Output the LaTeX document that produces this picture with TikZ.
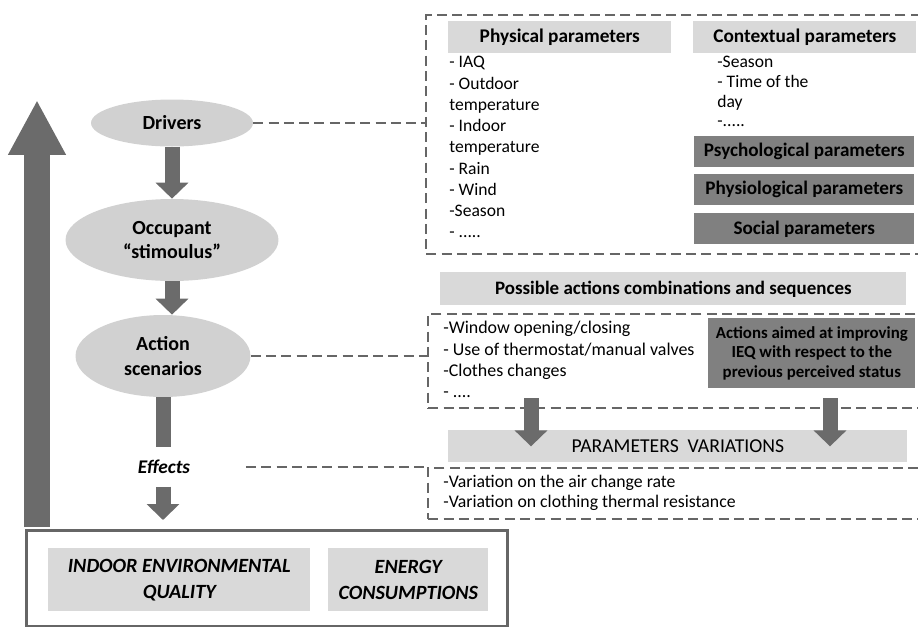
\documentclass[tikz,border=0pt]{standalone}
\usepackage{fontspec}
\setmainfont{Carlito}
\usetikzlibrary{arrows.meta,shapes.geometric}

\begin{document}
\begin{tikzpicture}[x=0.02cm, y=-0.02cm, %%% one unit = one pixel of the 918x626 frame, y downwards
    stage/.style={ellipse, fill=black!18, inner sep=0pt, align=center, font=\fontsize{11.4}{14}\selectfont\bfseries},
    lightbox/.style={rectangle, fill=black!15, inner sep=0pt, anchor=north west, align=center},
    darkbox/.style={rectangle, fill=black!50, inner sep=0pt, anchor=north west, align=center, font=\fontsize{10.9}{12}\selectfont\bfseries},
    dbox/.style={draw=black!60, line width=1.4pt, dash pattern=on 5.7pt off 3pt, inner sep=0pt, anchor=north west},
    dline/.style={draw=black!60, line width=1.4pt, dash pattern=on 5.7pt off 3pt},
    list/.style={anchor=north west, align=left, inner sep=0pt},
    barrow/.style={draw=black!58, line width=0.3cm, -{Triangle[width=0.64cm,length=0.32cm]}},
    ]
      \useasboundingbox (0,0) rectangle (918,626);

      %%% left column
      \node[stage, minimum width=3.24cm, minimum height=0.94cm] (drv) at (172,123) {Drivers};
      \node[stage, minimum width=4.26cm, minimum height=1.64cm] (occ) at (172,240) {Occupant\\“stimoulus”};
      \node[stage, minimum width=3.5cm, minimum height=1.64cm]  (act) at (163,356) {Action\\scenarios};
      \node[font=\fontsize{11}{13}\selectfont\bfseries\itshape, inner sep=2pt] (eff) at (164,467) {Effects};

      \draw[barrow] (drv) -- (occ);
      \draw[barrow] (occ.south) -- (occ.south |- act.north);
      \draw[draw=black!58, line width=0.3cm, shorten >=0.18cm] (act) -- (act |- eff.north);

      %%% bottom results
      \node[draw=black!60, line width=1.5pt, minimum width=9.62cm, minimum height=1.92cm, inner sep=0pt, anchor=north west] (outbox) at (25,529) {};
      \node[lightbox, minimum width=5.24cm, minimum height=1.26cm, font=\fontsize{11.5}{15}\selectfont\bfseries\itshape] (ieq) at (48,548) {INDOOR ENVIRONMENTAL\\QUALITY};
      \node[lightbox, minimum width=3.2cm, minimum height=1.26cm, font=\fontsize{11.5}{15}\selectfont\bfseries\itshape] (ene) at (328,548) {ENERGY\\CONSUMPTIONS};
      \draw[barrow, shorten <=0.18cm, shorten >=0.18cm] (act |- eff.south) -- (act |- outbox.north);

      %%% big feedback arrow
      \coordinate (bigbot) at (37,527);
      \coordinate (bigtop) at (37,100);
      \draw[draw=black!58, line width=0.52cm, -{Triangle[width=1.08cm,length=1.1cm]}] (bigbot) -- (bigtop);

      %%% drivers panel
      \node[dbox, minimum width=10.2cm, minimum height=4.78cm] (drvbox) at (425,14) {};
      \node[lightbox, minimum width=4.46cm, minimum height=0.64cm, font=\fontsize{11}{12}\selectfont\bfseries] (phys) at (448,21) {Physical parameters};
      \node[lightbox, minimum width=4.46cm, minimum height=0.64cm, font=\fontsize{11}{12}\selectfont\bfseries] (ctx) at (693,21) {Contextual parameters};
      \node[list, font=\fontsize{10}{12.1}\selectfont] (physlist) at (449,56) {- IAQ\\- Outdoor\\temperature\\- Indoor\\temperature\\- Rain\\- Wind\\-Season\\- .....};
      \node[list, font=\fontsize{10}{11.2}\selectfont] (ctxlist) at (717,56) {-Season\\- Time of the\\day\\-.....};
      \node[darkbox, minimum width=4.4cm, minimum height=0.62cm] (psy) at (694,136) {Psychological parameters};
      \node[darkbox, minimum width=4.4cm, minimum height=0.62cm] (phy) at (694,174) {Physiological parameters};
      \node[darkbox, minimum width=4.4cm, minimum height=0.62cm] (soc) at (694,213) {Social parameters};
      \draw[dline] (drv.east) -- (drv.east -| drvbox.west);

      %%% actions panel
      \node[lightbox, minimum width=9.32cm, minimum height=0.66cm, font=\fontsize{10.8}{12}\selectfont\bfseries] (comb) at (440,272) {Possible actions combinations and sequences};
      \node[dbox, minimum width=10.2cm, minimum height=1.88cm] (actbox) at (427,313) {};
      \node[list, font=\fontsize{10.2}{12.1}\selectfont] (actlist) at (443,321) {-Window opening/closing\\- Use of thermostat/manual valves\\-Clothes changes\\- ....};
      \node[darkbox, minimum width=4.14cm, minimum height=1.4cm, font=\fontsize{9.6}{11}\selectfont\bfseries] (aim) at (708,318) {Actions aimed at improving\\IEQ with respect to the\\previous perceived status};
      \draw[dline] (act.east) -- (act.east -| actbox.west);

      %%% variations panel
      \node[lightbox, minimum width=9.18cm, minimum height=0.64cm, font=\fontsize{11.2}{12}\selectfont] (pv) at (448,430) {PARAMETERS~~VARIATIONS};
      \coordinate (la) at (531,398);
      \coordinate (ra) at (830,398);
      \draw[barrow] (la) -- (la |- pv.center);
      \draw[barrow] (ra) -- (ra |- pv.center);
      \node[dbox, minimum width=10.2cm, minimum height=1.02cm] (varbox) at (427,467) {};
      \node[list, font=\fontsize{10.1}{11}\selectfont] (varlist) at (443,475) {-Variation on the air change rate\\-Variation on clothing thermal resistance};
      \draw[dline, shorten <=1.04cm] (eff.east) -- (eff.east -| varbox.west);
\end{tikzpicture}
\end{document}
